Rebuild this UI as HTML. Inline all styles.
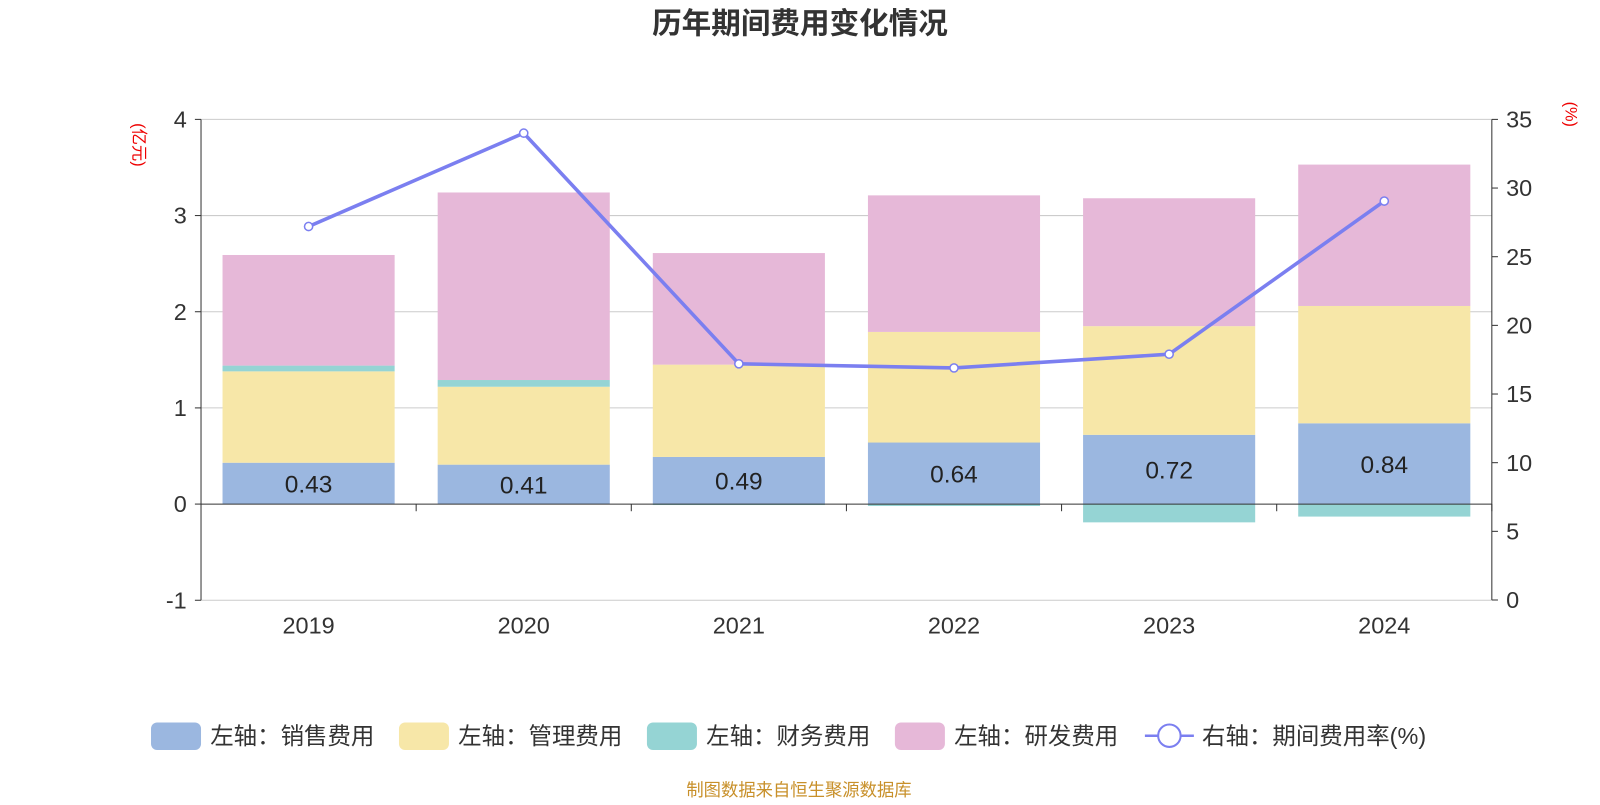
<!DOCTYPE html>
<html><head><meta charset="utf-8"><style>
body{margin:0;background:#fff;width:1600px;height:800px;overflow:hidden;font-family:"Liberation Sans","Noto Sans CJK SC",sans-serif;}
</style></head><body>
<svg id="chart" width="1600" height="800" viewBox="0 0 1568 784" xmlns="http://www.w3.org/2000/svg" font-family="Liberation Sans, Noto Sans CJK SC, sans-serif">
<text x="784" y="33" text-anchor="middle" font-size="29" font-weight="bold" fill="#333">历年期间费用变化情况</text>
<text transform="translate(131,142) rotate(90)" text-anchor="middle" font-size="16" fill="#e00">(亿元)</text>
<text transform="translate(1534,112) rotate(90)" text-anchor="middle" font-size="16" fill="#e00">(%)</text>
<g id="grid"></g><g id="bars"></g><g id="axes"></g><g id="line"></g>
<g font-size="23" fill="#333">
<g><rect x="148" y="708" width="49" height="27" rx="6" fill="#9bb7e0"/><text x="206" y="729">左轴：销售费用</text></g>
<g><rect x="391" y="708" width="49" height="27" rx="6" fill="#f7e7a8"/><text x="449" y="729">左轴：管理费用</text></g>
<g><rect x="634" y="708" width="49" height="27" rx="6" fill="#95d4d4"/><text x="692" y="729">左轴：财务费用</text></g>
<g><rect x="877" y="708" width="49" height="27" rx="6" fill="#e6b8d8"/><text x="935" y="729">左轴：研发费用</text></g>
<g><line x1="1122" y1="721" x2="1170" y2="721" stroke="#7b7ff0" stroke-width="2.5"/><circle cx="1146" cy="721" r="11" fill="#fff" stroke="#7b7ff0" stroke-width="2"/><text x="1178" y="729">右轴：期间费用率(%)</text></g>
</g>
<text x="783" y="780" text-anchor="middle" font-size="17" fill="#c8902a">制图数据来自恒生聚源数据库</text>
</svg>
<script>
const categories=["2019","2020","2021","2022","2023","2024"];
const sales=[0.43,0.41,0.49,0.64,0.72,0.84];
const admin=[0.95,0.81,0.96,1.15,1.13,1.22];
const finance=[0.06,0.07,-0.01,-0.02,-0.19,-0.13];
const rd=[1.15,1.95,1.16,1.42,1.33,1.47];
const rate=[27.2,34.0,17.2,16.9,17.9,29.05];
const leftTicks=[-1,0,1,2,3,4];
const rightTicks=[0,5,10,15,20,25,30,35];
const NS="http://www.w3.org/2000/svg";
const X0=197,X1=1462,Y0=494,PU=94.25;
const yL=v=>Y0-v*PU;
const yR=v=>588-v*(471/35);
const cw=(X1-X0)/categories.length;
const xc=i=>X0+cw*(i+0.5);
function mk(t,a,p){const e=document.createElementNS(NS,t);for(const k in a)e.setAttribute(k,a[k]);p.appendChild(e);return e;}
const g=document.getElementById('grid'),b=document.getElementById('bars'),ax=document.getElementById('axes'),ln=document.getElementById('line');
leftTicks.forEach(v=>{
 if(v!==0){const l=mk('line',{x1:X0,x2:X1,y1:yL(v),y2:yL(v),stroke:'#ccc','stroke-width':1},g);
 
 }
 const t=mk('text',{x:183,y:yL(v)+8,'text-anchor':'end','font-size':23,fill:'#333'},ax);t.textContent=v;
 
 
 mk('line',{x1:X0-6,x2:X0,y1:yL(v),y2:yL(v),stroke:'#333'},ax);
});
rightTicks.forEach(v=>{
 const t=mk('text',{x:1476,y:yR(v)+8,'font-size':23,fill:'#333'},ax);t.textContent=v;
 
 
 mk('line',{x1:X1,x2:X1+6,y1:yR(v),y2:yR(v),stroke:'#333'},ax);
});
mk('line',{x1:X0,x2:X0,y1:yL(4),y2:yL(-1),stroke:'#333'},ax);
mk('line',{x1:X1,x2:X1,y1:yR(35),y2:yR(0),stroke:'#333'},ax);
mk('line',{x1:X0,x2:X1,y1:Y0,y2:Y0,stroke:'#333'},ax);
const bw=cw*0.8;
categories.forEach((c,i)=>{
 const x=xc(i)-bw/2;
 let pos=0,neg=0;
 [[sales,'#9bb7e0','sales'],[admin,'#f7e7a8','admin'],[finance,'#95d4d4','finance'],[rd,'#e6b8d8','rd']].forEach(([arr,col,n])=>{
  const v=arr[i];let top,bot;
  if(v>=0){bot=pos;top=pos+v;pos=top;}else{top=neg;bot=neg+v;neg=bot;}
  const r=mk('rect',{x:x,y:yL(top),width:bw,height:Math.max(0,yL(bot)-yL(top)),fill:col},b);
  
  
 });
 const t=mk('text',{x:xc(i),y:(yL(sales[i])+Y0)/2+9,'text-anchor':'middle','font-size':24,fill:'#222'},b);t.textContent=sales[i].toFixed(2);
 
 
 const xl=mk('text',{x:xc(i),y:621,'text-anchor':'middle','font-size':23,fill:'#333'},ax);xl.textContent=c;
 
 
 mk('line',{x1:X0+cw*(i+1),x2:X0+cw*(i+1),y1:Y0,y2:Y0+7,stroke:'#333'},ax);
});
const pl=mk('polyline',{points:rate.map((v,i)=>xc(i)+','+yR(v)).join(' '),fill:'none',stroke:'#7b7ff0','stroke-width':3.5},ln);


rate.forEach((v,i)=>{const p=mk('circle',{cx:xc(i),cy:yR(v),r:4,fill:'#fff',stroke:'#7b7ff0','stroke-width':1.5},ln);
 
 });
</script>
</body></html>
